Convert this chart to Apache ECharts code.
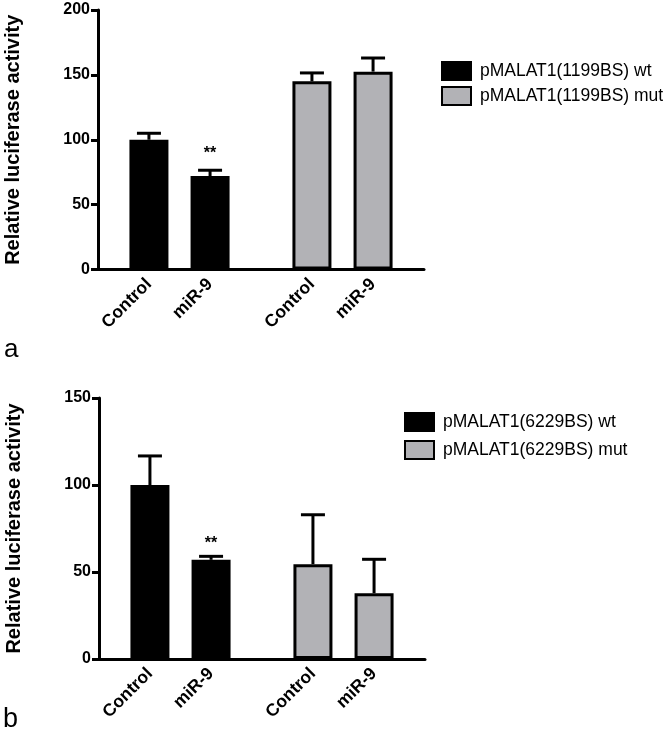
<!DOCTYPE html>
<html>
<head>
<meta charset="utf-8">
<script src="https://cdn.jsdelivr.net/npm/echarts@6/dist/echarts.min.js"></script>
<style>html,body{margin:0;padding:0;background:#fff}#c{width:672px;height:736px}</style>
</head>
<body>
<div id="c"></div>
<script>
// ---- data ----
const categories = ['Control', 'miR-9', 'Control', 'miR-9'];
const yTitle = 'Relative luciferase activity';

// panel a
const aLegend = ['pMALAT1(1199BS) wt', 'pMALAT1(1199BS) mut'];
const aWt = [100, 72];
const aWtErr = [5, 4.5];
const aMut = [145, 152.5];
const aMutErr = [6.5, 10.5];
const aSig = ['', '**', '', ''];
const aTicks = [0, 50, 100, 150, 200];

// panel b
const bLegend = ['pMALAT1(6229BS) wt', 'pMALAT1(6229BS) mut'];
const bWt = [100, 57];
const bWtErr = [16.7, 2];
const bMut = [54.5, 37.8];
const bMutErr = [28.4, 19.5];
const bSig = ['', '**', '', ''];
const bTicks = [0, 50, 100, 150];

// ---- layout helpers (not data) ----
const FONT = 'Liberation Sans, Arial, sans-serif';
const NSLOT = 16;
const slotOf = [2, 5, 10, 13];
const GRAY = '#b2b2b6';

const slotCats = Array.from({length: NSLOT}, () => '');
slotOf.forEach((s, i) => slotCats[s] = categories[i]);

function slotData(vals, idxs) {
  const d = Array.from({length: NSLOT}, () => '-');
  vals.forEach((v, i) => d[slotOf[idxs[i]]] = v);
  return d;
}

function errData(vals, errs) {
  return vals.map((v, i) => [slotOf[i], v, errs[i]]);
}

function makeErr(gi, vals, errs, sig, starGap) {
  return {
    type: 'custom', xAxisIndex: gi, yAxisIndex: gi, z: 5,
    data: errData(vals, errs), encode: {x: 0, y: 1},
    silent: true,
    renderItem: function (params, api) {
      const x = api.value(0), v = api.value(1), e = api.value(2);
      const p0 = api.coord([x, v]);
      const p1 = api.coord([x, v + e]);
      const st = {stroke: '#000', lineWidth: 3};
      const ch = [
        {type: 'line', shape: {x1: p0[0], y1: p0[1], x2: p1[0], y2: p1[1]}, style: st},
        {type: 'line', shape: {x1: p1[0] - 12, y1: p1[1], x2: p1[0] + 12, y2: p1[1]}, style: st}
      ];
      const s = sig[params.dataIndex];
      if (s) {
        ch.push({type: 'text', style: {text: s, x: p1[0], y: p1[1] - starGap, align: 'center', verticalAlign: 'middle',
          font: 'bold 16px ' + FONT, fill: '#000'}});
      }
      return {type: 'group', children: ch};
    }
  };
}

function xAx(gi) {
  return {
    type: 'category', gridIndex: gi, data: slotCats, boundaryGap: true,
    axisLine: {lineStyle: {color: '#000', width: 3}},
    axisTick: {alignWithLabel: true, length: 8, lineStyle: {color: '#000', width: 3},
      interval: (i, v) => v !== ''},
    axisLabel: {interval: 0, rotate: 45, margin: 12, color: '#000', fontWeight: 'bold', fontSize: 17.5, fontFamily: FONT},
    splitLine: {show: false}
  };
}

function yAx(gi, ticks) {
  return {
    type: 'value', gridIndex: gi, min: ticks[0], max: ticks[ticks.length - 1], interval: ticks[1] - ticks[0],
    name: yTitle, nameLocation: 'middle', nameGap: 75,
    nameTextStyle: {color: '#000', fontWeight: 'bold', fontSize: 20, fontFamily: FONT},
    axisLine: {show: true, lineStyle: {color: '#000', width: 3}},
    axisTick: {show: true, length: 7, lineStyle: {color: '#000', width: 3}},
    axisLabel: {margin: 8, color: '#000', fontWeight: 'bold', fontSize: 16, fontFamily: FONT},
    splitLine: {show: false}
  };
}

function bar(gi, name, data, color) {
  return {
    type: 'bar', name: name, xAxisIndex: gi, yAxisIndex: gi, data: data,
    barWidth: 39, barGap: '-100%',
    itemStyle: {color: color, borderColor: '#000', borderWidth: 3},
    emphasis: {disabled: true}
  };
}

function legend(names, left, top, gap) {
  return {
    data: names, orient: 'vertical', left: left, top: top, icon: 'rect', padding: 0,
    itemWidth: 29, itemHeight: 18, itemGap: gap, selectedMode: false,
    textStyle: {color: '#000', fontSize: 17.5, fontFamily: FONT, padding: [0, 0, 0, 4]}
  };
}

const chart = echarts.init(document.getElementById('c'), null, {renderer: 'canvas'});
chart.setOption({
  animation: false,
  backgroundColor: '#fff',
  grid: [
    {left: 98, top: 10, width: 326, height: 259.5},
    {left: 99, top: 398, width: 326, height: 261}
  ],
  xAxis: [xAx(0), xAx(1)],
  yAxis: [yAx(0, aTicks), yAx(1, bTicks)],
  legend: [legend(aLegend, 441, 61, 5), legend(bLegend, 404, 412, 8)],
  series: [
    bar(0, aLegend[0], slotData(aWt, [0, 1]), '#000'),
    bar(0, aLegend[1], slotData(aMut, [2, 3]), GRAY),
    makeErr(0, aWt.concat(aMut), aWtErr.concat(aMutErr), aSig, 17),
    bar(1, bLegend[0], slotData(bWt, [0, 1]), '#000'),
    bar(1, bLegend[1], slotData(bMut, [2, 3]), GRAY),
    makeErr(1, bWt.concat(bMut), bWtErr.concat(bMutErr), bSig, 13)
  ],
  graphic: [
    {type: 'text', left: 4, top: 337, style: {text: 'a', font: '26px ' + FONT, fill: '#000'}},
    {type: 'text', left: 3, top: 706, style: {text: 'b', font: '27px ' + FONT, fill: '#000'}}
  ]
});
</script>
</body>
</html>
